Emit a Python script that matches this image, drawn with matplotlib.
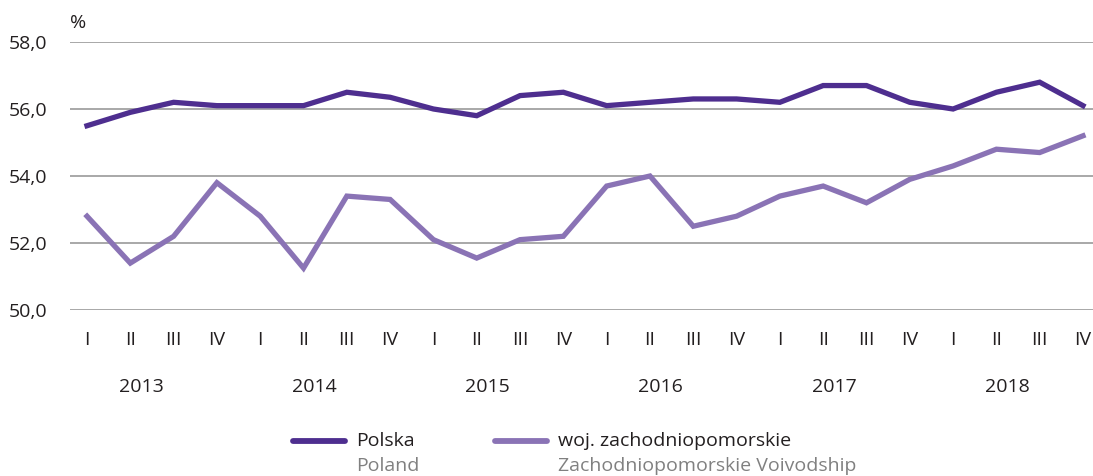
import matplotlib
matplotlib.use("Agg")
import matplotlib.pyplot as plt
from matplotlib.lines import Line2D
import matplotlib.transforms as mtransforms

quarters = ["I", "II", "III", "IV"] * 6
years = ["2013", "2014", "2015", "2016", "2017", "2018"]
polska = [55.5, 55.9, 56.2, 56.1, 56.1, 56.1, 56.5, 56.35, 56.0, 55.8, 56.4, 56.5,
          56.1, 56.2, 56.3, 56.3, 56.2, 56.7, 56.7, 56.2, 56.0, 56.5, 56.8, 56.1]
zachodniopomorskie = [52.8, 51.4, 52.2, 53.8, 52.8, 51.25, 53.4, 53.3, 52.1, 51.55, 52.1, 52.2,
                      53.7, 54.0, 52.5, 52.8, 53.4, 53.7, 53.2, 53.9, 54.3, 54.8, 54.7, 55.2]
yticks = [50, 52, 54, 56, 58]
ytick_labels = ["50,0", "52,0", "54,0", "56,0", "58,0"]
series_names = ["Polska", "woj. zachodniopomorskie"]
series_names_en = ["Poland", "Zachodniopomorskie Voivodship"]

c_pl = "#4e2e8f"
c_zp = "#8a73b5"
text_c = "#231f20"
gray_c = "#808080"

plt.rcParams['font.family'] = ['Open Sans', 'DejaVu Sans']
FS = 14

W, H = 1093, 476
fig = plt.figure(figsize=(W / 100, H / 100), dpi=100)
ax = fig.add_axes([70 / W, 1 - 310 / H, 1 - 70 / W, (310 - 42) / H])

x = list(range(len(polska)))
ax.plot(x, polska, color=c_pl, lw=3.8, solid_joinstyle='miter', zorder=3)
ax.plot(x, zachodniopomorskie, color=c_zp, lw=3.8, solid_joinstyle='miter', zorder=3)

ax.set_ylim(50, 58)
ax.set_xlim(-17 / 43.3, 23 + 10 / 43.3)
ax.set_yticks(yticks)
ax.set_yticklabels(ytick_labels)
ax.yaxis.grid(True, color="#9a9a9a", lw=1.2)
ax.set_axisbelow(True)
for s in ax.spines.values():
    s.set_visible(False)
ax.tick_params(axis='y', length=0, pad=16.5, labelsize=FS, labelcolor=text_c)
ax.set_xticks(x)
ax.set_xticklabels(quarters)
ax.tick_params(axis='x', length=0, pad=15, labelsize=FS, labelcolor=text_c)

trans = mtransforms.blended_transform_factory(ax.transData, fig.transFigure)
for i, yr in enumerate(years):
    ax.text(4 * i + 1.25, 1 - 387 / H, yr, transform=trans, ha='center', va='center',
            fontsize=FS, color=text_c)

fig.text(78 / W, 1 - 23 / H, "%", ha='center', va='center', fontsize=FS, color=text_c)

# legend
colors = [c_pl, c_zp]
handle_x = [(293, 345), (495, 547)]
text_x = [356, 558]
for (x0, x1), tx, col, nm, en in zip(handle_x, text_x, colors, series_names, series_names_en):
    fig.add_artist(Line2D([x0 / W, x1 / W], [1 - 441 / H, 1 - 441 / H], color=col, lw=4.2,
                          solid_capstyle='round', transform=fig.transFigure))
    fig.text(tx / W, 1 - 441 / H, nm, ha='left', va='center', fontsize=FS, color=text_c)
    fig.text(tx / W, 1 - 466 / H, en, ha='left', va='center', fontsize=FS, color=gray_c)

fig.savefig("out.png", dpi=100)
